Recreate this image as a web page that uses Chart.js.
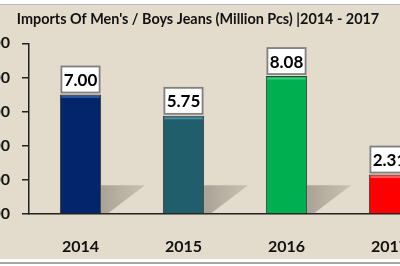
<!DOCTYPE html>
<html><head><meta charset="utf-8">
<script src="https://cdn.jsdelivr.net/npm/chart.js@4"></script>
<style>
html,body{margin:0;padding:0;width:400px;height:266px;overflow:hidden;background:#fff;}
#frame{position:absolute;left:0;top:4px;width:400px;height:254px;background:#E3DBCB;border-top:1px solid #b8b8b8;}
#line2{position:absolute;left:0;top:262px;width:400px;height:2px;background:#a8a8a8;}
#wrap{position:absolute;left:-45px;top:0;width:490px;height:266px;}
</style></head>
<body>
<div id="frame"></div><div id="line2"></div>
<div id="wrap"><canvas id="c" width="490" height="266"></canvas></div>
<script>
const titleText = "Imports Of Men's / Boys Jeans (Million Pcs) |2014 - 2017";
const categories = ['2014','2015','2016','2017'];
const imports = [7.00, 5.75, 8.08, 2.31];
const barColors = ['#02256B','#215E6B','#00B050','#FF0000'];
const topHighlights = ['#2A55A0','#4690A0','#34CC78','#FF5A5A'];
const yTicks = [0,2,4,6,8,10];

const shadowPlugin = {
  id:'shadows',
  beforeDatasetsDraw(chart){
    const ctx = chart.ctx;
    chart.getDatasetMeta(0).data.forEach(b=>{
      const r = b.x + b.width/2, base = b.base;
      ctx.save();
      const g = ctx.createLinearGradient(r,0,r+45,0);
      g.addColorStop(0,'rgba(110,104,94,0.5)');
      g.addColorStop(1,'rgba(140,134,124,0.3)');
      ctx.fillStyle = g;
      ctx.beginPath();
      ctx.moveTo(r, base-28);
      ctx.lineTo(r+44, base-28);
      ctx.lineTo(r+7, base);
      ctx.lineTo(r, base);
      ctx.closePath();
      ctx.fill();
      ctx.restore();
    });
  }
};
const labelPlugin = {
  id:'boxLabels',
  afterDatasetsDraw(chart){
    const ctx = chart.ctx;
    const ds = chart.data.datasets[0];
    chart.getDatasetMeta(0).data.forEach((b,i)=>{
      ctx.save();
      ctx.fillStyle = topHighlights[i];
      ctx.fillRect(b.x - b.width/2 + 1.5, b.y + 1.5, b.width - 3, 2);
      const w = b.width - 3, h = 26;
      const x = b.x - w/2, y = b.y - 2 - h;
      ctx.fillStyle = '#ffffff';
      ctx.fillRect(x, y, w, h);
      ctx.strokeStyle = '#808080';
      ctx.lineWidth = 1.8;
      ctx.strokeRect(x, y, w, h);
      ctx.fillStyle = '#000';
      ctx.font = 'bold 17px Lato';
      ctx.textAlign = 'center';
      ctx.textBaseline = 'middle';
      ctx.fillText(ds.data[i].toFixed(2), b.x, y + h/2 + 1);
      ctx.restore();
    });
  }
};

new Chart(document.getElementById('c'), {
  type:'bar',
  data:{labels:categories, datasets:[{
    data:imports,
    backgroundColor:barColors,
    borderColor:'#3a3a3a',
    borderWidth:1,
    categoryPercentage:1,
    barPercentage:0.4
  }]},
  options:{
    responsive:false, animation:false,
    layout:{padding:{left:0,right:4,top:0,bottom:0}},
    plugins:{
      legend:{display:false}, tooltip:{enabled:false},
      title:{display:true, text:titleText, color:'#111',
        font:{family:'Lato', size:14.4, weight:'bold'}, padding:{top:11, bottom:15}}
    },
    scales:{
      x:{
        grid:{display:false, drawTicks:false},
        border:{display:true, color:'#222', width:1.5},
        ticks:{color:'#111', font:{family:'Lato', size:16, weight:'bold'}, padding:23},
        afterFit(s){ s.height = 52; }
      },
      y:{
        min:0, max:10,
        afterBuildTicks(s){ s.ticks = yTicks.map(v=>({value:v})); },
        grid:{display:true, drawOnChartArea:false, tickLength:7, color:'#222', lineWidth:1.5},
        border:{display:true, color:'#222', width:1.5},
        ticks:{color:'#111', font:{family:'Lato', size:16, weight:'bold'}, padding:12,
          callback:v=>v.toFixed(2)},
        afterFit(s){ s.width = 74; }
      }
    }
  },
  plugins:[shadowPlugin, labelPlugin]
});
</script>
</body></html>
